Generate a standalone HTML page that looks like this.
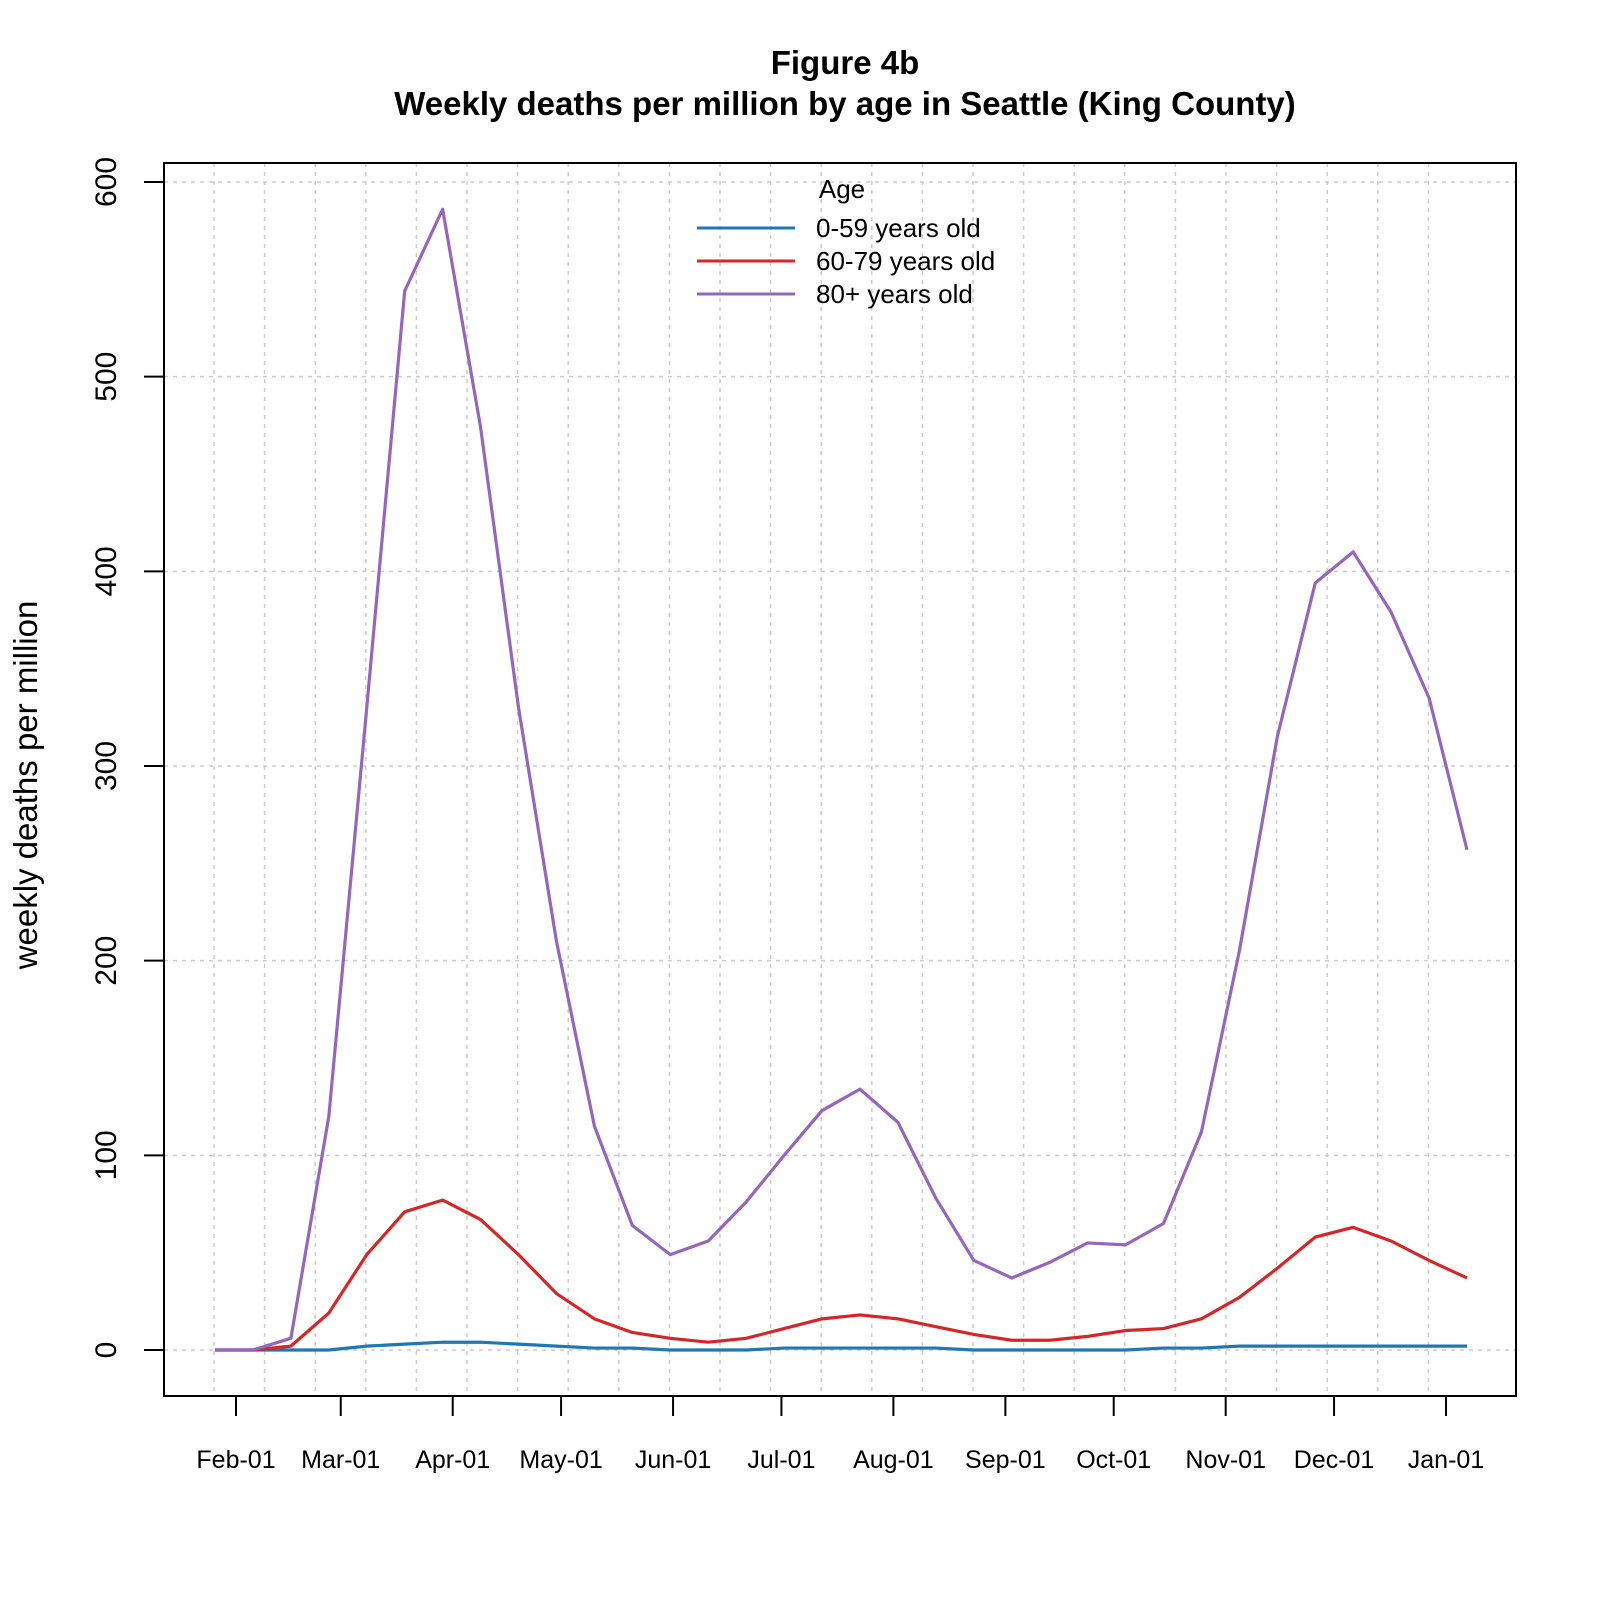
<!DOCTYPE html>
<html><head><meta charset="utf-8"><style>html,body{margin:0;padding:0;background:#fff}svg{display:block}</style></head>
<body>
<svg id="chart" width="1600" height="1600" xmlns="http://www.w3.org/2000/svg" font-family="Liberation Sans, sans-serif">
<text x="845" y="74" text-anchor="middle" font-size="33" font-weight="bold">Figure 4b</text>
<text x="845" y="115" text-anchor="middle" font-size="33" font-weight="bold">Weekly deaths per million by age in Seattle (King County)</text>
<g id="grid"></g>
<g id="series"></g>
<rect x="164" y="163" width="1352" height="1233" fill="none" stroke="#000" stroke-width="2"/>
<g id="axes"></g>
<text transform="translate(37,785) rotate(-90)" text-anchor="middle" font-size="33">weekly deaths per million</text>
<g>
<text x="842" y="198" text-anchor="middle" font-size="26">Age</text>
<line x1="697" y1="228" x2="795" y2="228" stroke="#1f77b4" stroke-width="3"/>
<text x="816" y="237" font-size="26">0-59 years old</text>
<line x1="697" y1="261" x2="795" y2="261" stroke="#d62728" stroke-width="3"/>
<text x="816" y="270" font-size="26">60-79 years old</text>
<line x1="697" y1="294" x2="795" y2="294" stroke="#9467bd" stroke-width="3"/>
<text x="816" y="303" font-size="26">80+ years old</text>
</g>
</svg>
<script>
const age0_59 = [0,0,0,0,2,3,4,4,3,2,1,1,0,0,0,1,1,1,1,1,0,0,0,0,0,1,1,2,2,2,2,2,2,2];
const age60_79 = [0,0,2,19,49,71,77,67,49,29,16,9,6,4,6,11,16,18,16,12,8,5,5,7,10,11,16,27,42,58,63,56,46,37];
const age80plus = [0,0,6,120,330,544,586,474,330,210,115,64,49,56,76,100,123,134,117,78,46,37,45,55,54,65,112,205,315,394,410,379,335,257];
const yTicks = [0,100,200,300,400,500,600];
const monthLabels = ["Feb-01","Mar-01","Apr-01","May-01","Jun-01","Jul-01","Aug-01","Sep-01","Oct-01","Nov-01","Dec-01","Jan-01"];
const monthDays = [0,29,60,90,121,151,182,213,243,274,304,335];

const NS = "http://www.w3.org/2000/svg";
const n = age80plus.length;
function xIdx(i){ return 215 + i*(1467-215)/(n-1); }
function xDay(d){ return 236 + d*3.612; }
function y(v){ return 1350 - v*(1350-182)/600; }
function mk(tag, attrs, parent){ const e=document.createElementNS(NS,tag); for(const k in attrs) e.setAttribute(k,attrs[k]); parent.appendChild(e); return e; }
const grid=document.getElementById('grid'), series=document.getElementById('series'), axes=document.getElementById('axes');
for(const t of yTicks){
  const g=mk('line',{x1:164,x2:1516,y1:y(t),y2:y(t),stroke:'#cccccc','stroke-width':1.5,'stroke-dasharray':'4,5'},grid);
  
  
  const tk=mk('line',{x1:144,x2:164,y1:y(t),y2:y(t),stroke:'#000','stroke-width':2},axes);
  
  
  const lb=mk('text',{transform:`translate(116,${y(t)}) rotate(-90)`,'text-anchor':'middle','font-size':30},axes);
  lb.textContent=t;
  
  
}
for(let k=0;k<25;k++){
  const gx=214+k*50.6;
  const g=mk('line',{x1:gx,x2:gx,y1:163,y2:1396,stroke:'#cccccc','stroke-width':1.5,'stroke-dasharray':'4,5'},grid);
  
  
}
monthLabels.forEach((m,i)=>{
  const x=xDay(monthDays[i]);
  const tk=mk('line',{x1:x,x2:x,y1:1396,y2:1416,stroke:'#000','stroke-width':2},axes);
  
  
  const lb=mk('text',{x:x,y:1468,'text-anchor':'middle','font-size':25},axes);
  lb.textContent=m;
  
  
});
function line(vals,color,name){
  const p=mk('polyline',{points:vals.map((v,i)=>xIdx(i)+','+y(v)).join(' '),fill:'none',stroke:color,'stroke-width':3.2,'stroke-linejoin':'round'},series);
  
  
}
line(age0_59,'#1f77b4','line-0-59');
line(age60_79,'#d62728','line-60-79');
line(age80plus,'#9467bd','line-80plus');
</script>
</body></html>
